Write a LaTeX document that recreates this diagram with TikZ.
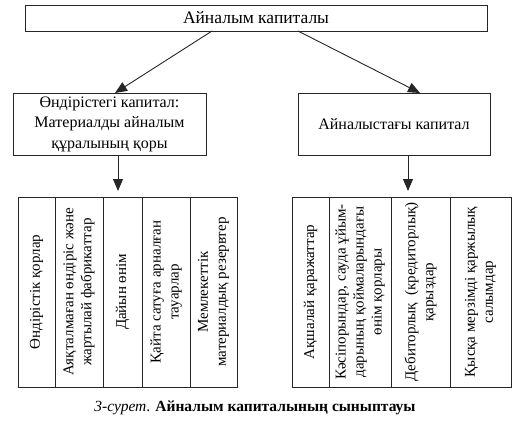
\documentclass[tikz,border=0pt]{standalone}
\usepackage{fontspec}
\setmainfont{Liberation Serif}
\usetikzlibrary{arrows.meta}
\tikzset{
  box/.style={draw=black!85, line width=0.9pt, inner sep=0pt, align=center, font=\fontsize{16}{20.5}\selectfont},
  col/.style={draw=black!85, line width=0.9pt, inner sep=0pt, align=center, rotate=90, minimum width=190pt, font=\fontsize{15}{18}\selectfont},
  arr/.style={draw=black!85, line width=0.9pt, -{Triangle[length=12pt,width=10pt]}}
}
\begin{document}
\begin{tikzpicture}[x=1pt,y=-1pt]
\useasboundingbox (0,0) rectangle (518,441);
\node[box, minimum width=462pt, minimum height=26pt, font=\fontsize{17.5}{20}\selectfont] (top) at (256,18) {Айналым капиталы};
\node[box, minimum width=193pt, minimum height=62pt] (left) at (109.5,124) {Өндірістегі капитал:\\Материалды айналым\\құралының қоры};
\node[box, minimum width=192pt, minimum height=62pt] (right) at (394,124) {Айналыстағы капитал};
% left columns
\node[col, minimum height=37pt] (L1) at (36.5,292) {Өндірістік қорлар};
\node[col, minimum height=48pt] (L2) at (79,292) {Аяқталмаған өндіріс және\\жартылай фабрикаттар};
\node[col, minimum height=39pt] (L3) at (122.5,292) {Дайын өнім};
\node[col, minimum height=48pt] (L4) at (166,292) {Қайта сатуға арналған\\тауарлар};
\node[col, minimum height=47pt] (L5) at (213.5,292) {Мемлекеттік\\материалдық резервтер};
% right columns
\node[col, minimum height=37pt] (R1) at (310.5,292) {Ақшалай қаражаттар};
\node[col, minimum height=62pt] (R2) at (360,292) {Кәсіпорындар, сауда ұйым-\\дарының қоймаларындағы\\өнім қорлары};
\node[col, minimum height=59pt] (R3) at (420.5,292) {Дебиторлық\ \ (кредиторлық)\\қарыздар};
\node[col, minimum height=61pt] (R4) at (480.5,292) {Қысқа мерзімді қаржылық\\салымдар};
% caption
\node[font=\fontsize{15.5}{18}\selectfont] (cap) at (255,408) {\textit{3-сурет}. \textbf{Айналым капиталының сыныптауы}};
% connectors
\coordinate (ta) at (212,31);
\coordinate (tb) at (298,31);
\coordinate (la) at (115,93);
\coordinate (ra) at (420,93);
\coordinate (ld) at (118,155);
\coordinate (lt) at (118,191);
\coordinate (rd) at (408,155);
\coordinate (rt) at (408,191);
\draw[arr] (ta) -- (la);
\draw[arr] (tb) -- (ra);
\draw[arr] (ld) -- (lt);
\draw[arr] (rd) -- (rt);
\end{tikzpicture}
\end{document}
